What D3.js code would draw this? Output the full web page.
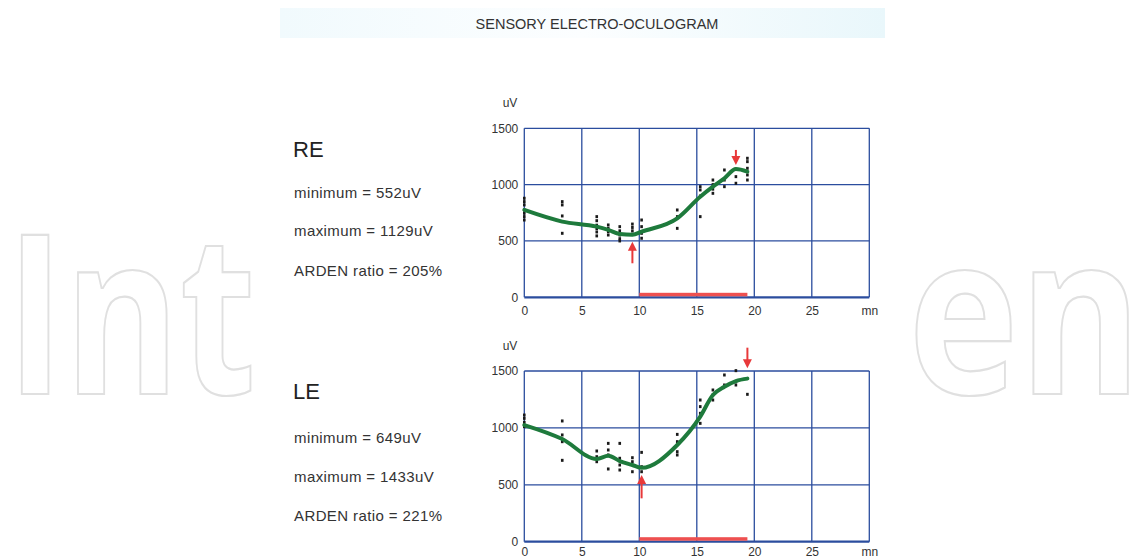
<!DOCTYPE html>
<html><head><meta charset="utf-8">
<script src="https://cdn.jsdelivr.net/npm/d3@7"></script>
<style>html,body{margin:0;padding:0;background:#fff;}svg{display:block;font-family:"Liberation Sans",Arial,sans-serif;}</style>
</head><body>
<script>
// ---- data ----
const minutes = [0, 3.3, 6.3, 7.3, 8.3, 9.4, 10.2, 13.3, 15.3, 16.4, 17.4, 18.4, 19.4];
const reMean = [775, 672, 627, 598, 562, 555, 583, 701, 893, 982, 1056, 1138, 1115];
const leMean = [1025, 902, 727, 756, 709, 674, 649, 850, 1099, 1289, 1362, 1412, 1433];
const reDots = [
  [879, 849, 820, 775, 746, 716, 686],
  [849, 820, 722, 568],
  [716, 680, 640, 610, 580, 545],
  [642, 612, 583, 553],
  [627, 590, 553, 520, 500],
  [650, 620, 590, 560],
  [686, 627, 568, 524],
  [775, 716, 612],
  [982, 953, 899, 716],
  [1041, 1000, 960, 923],
  [1130, 1041, 982],
  [1071, 1012],
  [1234, 1204, 1145, 1086, 1041]
];
const leDots = [
  [1113, 1084, 1049, 1011],
  [1061, 938, 879, 715],
  [797, 747, 703],
  [864, 806, 762, 639],
  [864, 733, 674, 630],
  [738, 703, 615],
  [785, 659, 615],
  [943, 879, 791, 762],
  [1245, 1187, 1128, 1040],
  [1333, 1289, 1245],
  [1465, 1377],
  [1503, 1406, 1377],
  [1295]
];
const reArrows = [{x: 9.4, from: 302, to: 494}, {x: 18.4, from: 1308, to: 1175}];
const leArrows = [{x: 10.2, from: 381, to: 586}, {x: 19.4, from: 1705, to: 1524}];
const stimulus = [10, 19.4];
const xTicks = [0, 5, 10, 15, 20, 25, 30];
const yTicks = [0, 500, 1000, 1500];
const reStats = ["minimum = 552uV", "maximum = 1129uV", "ARDEN ratio = 205%"];
const leStats = ["minimum = 649uV", "maximum = 1433uV", "ARDEN ratio = 221%"];
const title = "SENSORY ELECTRO-OCULOGRAM";

const W = 1145, H = 559;
const svg = d3.select("body").append("svg").attr("width", W).attr("height", H);

// watermark (visible parts only, behind the document)
const wm = (x, len, t) => {
  const el = svg.append("text").attr("x", 0).attr("y", 0)
    .style("font-family", "'Open Sans', sans-serif").style("font-weight", 700)
    .style("font-size", "222px")
    .attr("fill", "none").attr("stroke", "#e0e0e0").attr("stroke-width", 2)
    .text(t);
  const natural = el.node().getComputedTextLength() || len;
  const sx = len / natural;
  el.attr("stroke-width", 2 / Math.sqrt(sx))
    .attr("transform", `translate(${x},394) scale(${sx},1)`);
};
wm(6, 250, "Int");
wm(908, 234, "en");

// document
svg.append("rect").attr("x", 280).attr("y", 0).attr("width", 605).attr("height", H).attr("fill", "#fff");
const defs = svg.append("defs");
const g = defs.append("linearGradient").attr("id", "band").attr("x1", 0).attr("x2", 1);
g.append("stop").attr("offset", 0).attr("stop-color", "#f1fafd");
g.append("stop").attr("offset", 0.5).attr("stop-color", "#fcfeff");
g.append("stop").attr("offset", 1).attr("stop-color", "#e9f7fb");
svg.append("rect").attr("x", 280).attr("y", 8).attr("width", 605).attr("height", 30).attr("fill", "url(#band)");
svg.append("text").attr("x", 597).attr("y", 29).attr("text-anchor", "middle")
  .style("font-size", "14.5px").attr("fill", "#333").text(title);

const xScale = d3.scaleLinear().domain([0, 30]).range([524.3, 869.3]);
const blue = "#2b4d9e";

function panel(yBottom, yTop, mean, dots, arrows, label, stats, labelY, statY, xPad) {
  const y = d3.scaleLinear().domain([0, 1500]).range([yBottom, yTop]);
  const p = svg.append("g");
  // grid
  p.selectAll(".vg").data(xTicks).join("line")
    .attr("x1", d => xScale(d)).attr("x2", d => xScale(d))
    .attr("y1", y(0)).attr("y2", y(1500))
    .attr("stroke", blue).attr("stroke-width", 1.3);
  p.selectAll(".hg").data(yTicks).join("line")
    .attr("x1", xScale(0)).attr("x2", xScale(30))
    .attr("y1", d => y(d)).attr("y2", d => y(d))
    .attr("stroke", blue).attr("stroke-width", d => d === 0 ? 2.2 : 1.3);
  // axes labels
  const xa = p.append("g").attr("transform", `translate(0,${y(0)})`)
    .call(d3.axisBottom(xScale).tickValues(xTicks).tickSize(0).tickPadding(xPad)
      .tickFormat(d => d === 30 ? "mn" : d));
  xa.select(".domain").remove();
  xa.selectAll("text").style("font-size", "12px").style("font-family", "'Liberation Sans',Arial,sans-serif").attr("fill", "#333");
  const ya = p.append("g").attr("transform", `translate(${xScale(0)},0)`)
    .call(d3.axisLeft(y).tickValues(yTicks).tickSize(0).tickPadding(6).tickFormat(d3.format("d")));
  ya.select(".domain").remove();
  ya.selectAll("text").style("font-size", "12px").style("font-family", "'Liberation Sans',Arial,sans-serif").attr("fill", "#333");
  p.append("text").attr("x", 510).attr("y", y(1500) - 21).attr("text-anchor", "middle")
    .style("font-size", "12px").attr("fill", "#333").text("uV");
  // stimulus bar
  p.append("rect").attr("x", xScale(stimulus[0])).attr("width", xScale(stimulus[1]) - xScale(stimulus[0]))
    .attr("y", y(0) - 4.5).attr("height", 3.5).attr("fill", "#ee5050");
  // dots
  const pts = [];
  dots.forEach((col, i) => col.forEach(v => pts.push([minutes[i], v])));
  p.selectAll(".dot").data(pts).join("rect")
    .attr("x", d => xScale(d[0]) - 1.3).attr("y", d => y(d[1]) - 1.5)
    .attr("width", 2.6).attr("height", 3).attr("fill", "#1a1a1a");
  // mean line
  const line = d3.line().x((d, i) => xScale(minutes[i])).y(d => y(d)).curve(d3.curveMonotoneX);
  p.append("path").datum(mean).attr("d", line).attr("fill", "none")
    .attr("stroke", "#1e7a3c").attr("stroke-width", 4).attr("stroke-linejoin", "round").attr("stroke-linecap", "round");
  // arrows
  arrows.forEach(a => {
    const x = xScale(a.x), y1 = y(a.from), y2 = y(a.to);
    const dir = y2 < y1 ? 1 : -1;
    p.append("line").attr("x1", x).attr("x2", x).attr("y1", y1).attr("y2", y2 + dir * 7)
      .attr("stroke", "#e8393a").attr("stroke-width", 2);
    p.append("path").attr("d", `M${x - 4.5},${y2 + dir * 9}L${x + 4.5},${y2 + dir * 9}L${x},${y2}Z`)
      .attr("fill", "#e8393a");
  });
  // left texts
  svg.append("text").attr("x", 293).attr("y", labelY).style("font-size", "22px").attr("fill", "#222").text(label);
  svg.selectAll(null).data(stats).join("text")
    .attr("x", 294).attr("y", (d, i) => statY[i])
    .style("font-size", "15px").style("letter-spacing", "0.4px").attr("fill", "#333").text(d => d);
}

panel(297.3, 128.3, reMean, reDots, reArrows, "RE", reStats, 157, [198, 236, 276], 9);
panel(541.7, 371, leMean, leDots, leArrows, "LE", leStats, 399, [443, 482, 521], 5.5);
</script>
</body></html>
